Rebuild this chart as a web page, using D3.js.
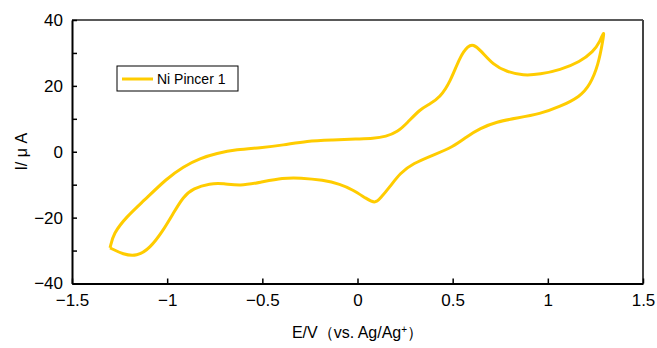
<!DOCTYPE html>
<html>
<head>
<meta charset="utf-8">
<script src="https://cdn.jsdelivr.net/npm/d3@7"></script>
<style>
  body { margin: 0; background: #fff; }
  svg text { font-family: "Liberation Sans", Arial, sans-serif; fill: #000; }
</style>
</head>
<body>
<svg id="chart" width="657" height="348"></svg>
<script>
// forward scan (-1.3 V -> 1.3 V)
const fwdE = [-1.300, -1.283, -1.213, -1.125, -1.002, -0.915, -0.827, -0.740, -0.635, -0.512, -0.390, -0.267, -0.127, -0.004, 0.083, 0.150, 0.210, 0.259, 0.328, 0.381, 0.433, 0.486, 0.539, 0.582, 0.608, 0.644, 0.714, 0.784, 0.871, 0.959, 1.064, 1.169, 1.239, 1.274, 1.297];
const fwdI = [-29.2, -24.8, -19.7, -15.0, -8.1, -4.5, -2.0, -0.5, 0.7, 1.2, 2.0, 3.3, 3.6, 3.9, 4.0, 4.6, 6.0, 8.6, 12.9, 14.5, 16.5, 21.0, 29.0, 32.2, 32.6, 31.0, 26.3, 24.3, 23.1, 23.5, 24.8, 27.3, 30.4, 33.4, 37.0];
// reverse scan (1.3 V -> -1.3 V)
const revE = [1.290, 1.265, 1.222, 1.169, 1.064, 0.959, 0.836, 0.731, 0.644, 0.574, 0.503, 0.398, 0.293, 0.223, 0.171, 0.118, 0.092, 0.048, -0.022, -0.092, -0.180, -0.302, -0.390, -0.512, -0.617, -0.705, -0.775, -0.863, -0.915, -0.968, -1.020, -1.090, -1.160, -1.230, -1.300];
const revI = [34.0, 26.3, 20.3, 16.7, 13.7, 11.5, 10.2, 9.1, 7.1, 4.6, 1.5, -1.0, -3.5, -6.5, -10.6, -14.3, -15.7, -14.3, -11.6, -9.8, -8.6, -7.9, -7.9, -9.3, -10.4, -9.6, -9.6, -11.1, -13.6, -18.7, -23.8, -29.3, -31.8, -31.2, -29.2];

const xTicks = [-1.5, -1, -0.5, 0, 0.5, 1, 1.5];
const yTicks = [-40, -30, -20, -10, 0, 10, 20, 30, 40];
const yLabels = [-40, -20, 0, 20, 40];
const seriesName = "Ni Pincer 1";

const margin = { left: 72, right: 14, top: 20, bottom: 64.5 };
const width = 657, height = 348;
const svg = d3.select("#chart");

const x = d3.scaleLinear([-1.5, 1.5], [margin.left, width - margin.right]);
const y = d3.scaleLinear([-40, 40], [height - margin.bottom, margin.top]);

const pts = fwdE.map((e, i) => [e, fwdI[i]])
  .concat(revE.map((e, i) => [e, revI[i]]));

const line = d3.line()
  .x(d => x(d[0]))
  .y(d => y(d[1]))
  .curve(d3.curveBasis);

svg.append("path")
  .attr("d", line(pts))
  .attr("fill", "none")
  .attr("stroke", "#ffcc00")
  .attr("stroke-width", 3)
  .attr("stroke-linejoin", "round");

// frame: top and right
svg.append("line")
  .attr("x1", x(-1.5)).attr("x2", x(1.5))
  .attr("y1", y(40)).attr("y2", y(40))
  .attr("stroke", "#222").attr("stroke-width", 1.5);
svg.append("line")
  .attr("x1", x(1.5)).attr("x2", x(1.5))
  .attr("y1", y(40)).attr("y2", y(-40))
  .attr("stroke", "#444").attr("stroke-width", 2);

// axes
const xAxis = svg.append("g")
  .attr("transform", `translate(0,${y(-40)})`)
  .call(d3.axisBottom(x).tickValues(xTicks).tickSizeInner(-5).tickSizeOuter(0)
    .tickFormat(d => String(d).replace("-", "\u2212")));
xAxis.select(".domain").attr("stroke", "#000").attr("stroke-width", 2);
xAxis.selectAll(".tick line").attr("stroke", "#000").attr("stroke-width", 1.5);
xAxis.selectAll(".tick text").attr("font-size", 17).attr("dy", "1.15em");

const yAxis = svg.append("g")
  .attr("transform", `translate(${x(-1.5)},0)`)
  .call(d3.axisLeft(y).tickValues(yTicks).tickSizeInner(-5).tickSizeOuter(0)
    .tickFormat(d => yLabels.includes(d) ? String(d).replace("-", "\u2212") : ""));
yAxis.select(".domain").attr("stroke", "#000").attr("stroke-width", 2);
yAxis.selectAll(".tick line").attr("stroke", "#000").attr("stroke-width", 1.5);
yAxis.selectAll(".tick text").attr("font-size", 17).attr("x", -9);

// axis titles
svg.append("text")
  .attr("x", (x(-1.5) + x(1.5)) / 2)
  .attr("y", 338)
  .attr("text-anchor", "middle")
  .attr("font-size", 16)
  .html('E/V（vs. Ag/Ag<tspan baseline-shift="super" font-size="10">+</tspan>）');

svg.append("text")
  .attr("transform", `translate(27,${y(0)}) rotate(-90)`)
  .attr("text-anchor", "middle")
  .attr("font-size", 16)
  .text("I/ \u03bc A");

// legend
const lg = svg.append("g").attr("transform", "translate(117,66)");
lg.append("rect")
  .attr("width", 121).attr("height", 25)
  .attr("fill", "#fff").attr("stroke", "#000").attr("stroke-width", 1);
lg.append("line")
  .attr("x1", 5).attr("x2", 36).attr("y1", 13).attr("y2", 13)
  .attr("stroke", "#ffcc00").attr("stroke-width", 3);
lg.append("text")
  .attr("x", 40).attr("y", 18)
  .attr("font-size", 14)
  .text(seriesName);
</script>
</body>
</html>
